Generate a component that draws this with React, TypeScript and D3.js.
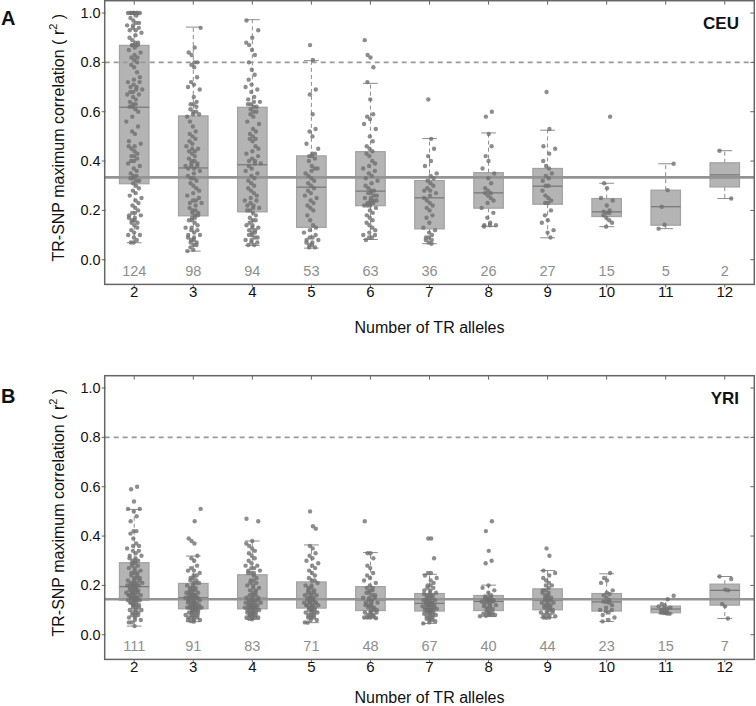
import React from "react";
import * as d3 from "d3";

// ---------- data ----------
const alleles = [2, 3, 4, 5, 6, 7, 8, 9, 10, 11, 12];
const yTicks = [0, 0.2, 0.4, 0.6, 0.8, 1.0];
const yTickLabels = ["0.0", "0.2", "0.4", "0.6", "0.8", "1.0"];
const threshold = 0.8;

const ceuCounts = [124, 98, 94, 53, 63, 36, 26, 27, 15, 5, 2];
const yriCounts = [111, 91, 83, 71, 48, 67, 40, 44, 23, 15, 7];

const ceuQ1 = [0.308, 0.178, 0.194, 0.131, 0.219, 0.125, 0.209, 0.225, 0.175, 0.14, 0.295];
const ceuMedian = [0.618, 0.372, 0.385, 0.294, 0.278, 0.251, 0.271, 0.298, 0.194, 0.215, 0.344];
const ceuQ3 = [0.869, 0.583, 0.618, 0.421, 0.438, 0.321, 0.353, 0.37, 0.248, 0.282, 0.393];
const ceuWhiskerLo = [0.069, 0.035, 0.058, 0.047, 0.082, 0.065, 0.135, 0.089, 0.134, 0.126, 0.248];
const ceuWhiskerHi = [1.0, 0.943, 0.973, 0.807, 0.715, 0.491, 0.514, 0.525, 0.31, 0.389, 0.442];
const ceuOverall = 0.334;

const yriQ1 = [0.14, 0.105, 0.105, 0.108, 0.098, 0.096, 0.098, 0.101, 0.096, 0.089, 0.12];
const yriMedian = [0.195, 0.15, 0.148, 0.144, 0.141, 0.127, 0.135, 0.14, 0.133, 0.104, 0.18];
const yriQ3 = [0.292, 0.208, 0.243, 0.214, 0.195, 0.167, 0.159, 0.186, 0.167, 0.116, 0.205];
const yriWhiskerLo = [0.035, 0.053, 0.063, 0.049, 0.067, 0.046, 0.075, 0.069, 0.054, 0.085, 0.066];
const yriWhiskerHi = [0.508, 0.319, 0.38, 0.364, 0.333, 0.245, 0.201, 0.26, 0.247, 0.144, 0.236];
const yriOverall = 0.144;

const ceu2 = [1, 1, 1, 1, 1, 1, 1, 1, 1, 0.99, 0.98, 0.97, 0.96, 0.96, 0.95, 0.95, 0.94, 0.94, 0.93, 0.93, 0.92, 0.91, 0.9, 0.89, 0.88, 0.88, 0.87, 0.87, 0.87, 0.87,
  0.86, 0.85, 0.84, 0.83, 0.82, 0.82, 0.81, 0.8, 0.79, 0.78, 0.76, 0.74, 0.73, 0.72, 0.72, 0.71, 0.7, 0.7, 0.69, 0.69, 0.68, 0.68, 0.67, 0.67, 0.66, 0.65, 0.64, 0.63, 0.63, 0.62, 0.62,
  0.61, 0.6, 0.58, 0.56, 0.54, 0.52, 0.51, 0.48, 0.47, 0.46, 0.46, 0.45, 0.44, 0.43, 0.42, 0.42, 0.41, 0.4, 0.4, 0.39, 0.38, 0.37, 0.36, 0.35, 0.34, 0.34, 0.33, 0.33, 0.32, 0.32, 0.31,
  0.3, 0.29, 0.28, 0.27, 0.26, 0.25, 0.24, 0.23, 0.22, 0.21, 0.2, 0.19, 0.19, 0.18, 0.18, 0.17, 0.17, 0.16, 0.16, 0.15, 0.15, 0.14, 0.13, 0.12, 0.11, 0.1, 0.1, 0.09, 0.08, 0.07, 0.07];
const ceu3 = [0.94, 0.86, 0.84, 0.83, 0.8, 0.8, 0.79, 0.78, 0.74, 0.72, 0.71, 0.7, 0.69, 0.66, 0.64, 0.63, 0.63, 0.62, 0.61, 0.6, 0.6, 0.59, 0.59, 0.58,
  0.56, 0.54, 0.52, 0.51, 0.5, 0.49, 0.48, 0.47, 0.46, 0.45, 0.45, 0.44, 0.44, 0.43, 0.42, 0.41, 0.4, 0.4, 0.39, 0.39, 0.38, 0.38, 0.38, 0.37, 0.37,
  0.36, 0.35, 0.34, 0.33, 0.33, 0.32, 0.31, 0.3, 0.29, 0.28, 0.27, 0.26, 0.25, 0.24, 0.24, 0.23, 0.23, 0.22, 0.21, 0.2, 0.2, 0.19, 0.19, 0.18, 0.18,
  0.17, 0.17, 0.16, 0.16, 0.15, 0.14, 0.13, 0.13, 0.12, 0.12, 0.11, 0.1, 0.1, 0.09, 0.09, 0.08, 0.08, 0.07, 0.07, 0.06, 0.06, 0.05, 0.04, 0.035];
const ceu4 = [0.97, 0.93, 0.9, 0.88, 0.87, 0.85, 0.83, 0.8, 0.77, 0.75, 0.73, 0.71, 0.7, 0.69, 0.68, 0.66, 0.65, 0.64, 0.64, 0.63, 0.63, 0.62, 0.62,
  0.61, 0.6, 0.6, 0.59, 0.58, 0.56, 0.55, 0.53, 0.52, 0.51, 0.5, 0.49, 0.49, 0.48, 0.46, 0.45, 0.44, 0.43, 0.42, 0.41, 0.4, 0.4, 0.39, 0.39,
  0.38, 0.37, 0.36, 0.35, 0.34, 0.33, 0.32, 0.31, 0.3, 0.29, 0.28, 0.27, 0.26, 0.25, 0.24, 0.24, 0.23, 0.22, 0.22, 0.21, 0.21, 0.2, 0.2, 0.19,
  0.18, 0.17, 0.16, 0.16, 0.15, 0.14, 0.14, 0.13, 0.13, 0.12, 0.12, 0.11, 0.11, 0.1, 0.1, 0.09, 0.09, 0.08, 0.08, 0.07, 0.07, 0.06, 0.06];
const ceu5 = [0.87, 0.81, 0.69, 0.67, 0.59, 0.53, 0.52, 0.5, 0.47, 0.45, 0.43, 0.43, 0.42,
  0.42, 0.41, 0.4, 0.38, 0.37, 0.37, 0.36, 0.35, 0.34, 0.33, 0.32, 0.31, 0.3,
  0.29, 0.28, 0.27, 0.26, 0.25, 0.24, 0.23, 0.22, 0.21, 0.2, 0.18, 0.16, 0.14,
  0.13, 0.12, 0.11, 0.1, 0.09, 0.09, 0.08, 0.08, 0.07, 0.07, 0.06, 0.06, 0.05, 0.05];
const ceu6 = [0.89, 0.83, 0.82, 0.78, 0.72, 0.65, 0.59, 0.58, 0.57, 0.55, 0.53, 0.5, 0.48, 0.46, 0.45, 0.44,
  0.43, 0.42, 0.4, 0.39, 0.38, 0.37, 0.36, 0.35, 0.34, 0.33, 0.32, 0.31, 0.3, 0.29, 0.28,
  0.28, 0.27, 0.27, 0.26, 0.26, 0.25, 0.25, 0.24, 0.24, 0.24, 0.23, 0.23, 0.23, 0.22, 0.22, 0.22,
  0.21, 0.2, 0.19, 0.18, 0.17, 0.16, 0.15, 0.14, 0.13, 0.12, 0.11, 0.1, 0.1, 0.09, 0.09, 0.08];
const ceu7 = [0.65, 0.49, 0.45, 0.42, 0.4, 0.38, 0.35, 0.34, 0.33,
  0.32, 0.31, 0.3, 0.29, 0.28, 0.28, 0.27, 0.26, 0.25,
  0.24, 0.23, 0.22, 0.21, 0.2, 0.18, 0.17, 0.15, 0.13,
  0.12, 0.11, 0.1, 0.09, 0.09, 0.08, 0.08, 0.07, 0.065];
const ceu8 = [0.6, 0.58, 0.51, 0.46, 0.42, 0.4, 0.37, 0.35, 0.33, 0.31, 0.29, 0.28, 0.27,
  0.27, 0.26, 0.25, 0.24, 0.23, 0.21, 0.19, 0.17, 0.15, 0.14, 0.14, 0.14, 0.135];
const ceu9 = [0.68, 0.53, 0.46, 0.45, 0.43, 0.4, 0.38, 0.37, 0.35, 0.34, 0.33, 0.32, 0.3,
  0.3, 0.28, 0.26, 0.25, 0.24, 0.23, 0.23, 0.2, 0.18, 0.16, 0.15, 0.12, 0.11, 0.09];
const ceu10 = [0.58, 0.31, 0.29, 0.25, 0.24, 0.22, 0.2, 0.195, 0.19, 0.19, 0.18, 0.17, 0.16, 0.15, 0.134];
const ceu11 = [0.389, 0.282, 0.215, 0.142, 0.126];
const ceu12 = [0.442, 0.248];
const ceuValues = [ceu2, ceu3, ceu4, ceu5, ceu6, ceu7, ceu8, ceu9, ceu10, ceu11, ceu12];

const yri2 = [0.6, 0.59, 0.54, 0.51, 0.51, 0.5, 0.48, 0.46, 0.42, 0.42, 0.41, 0.39, 0.37, 0.36, 0.36, 0.35, 0.34, 0.34, 0.33, 0.32, 0.32, 0.31, 0.31, 0.3, 0.3, 0.3, 0.29,
  0.29, 0.28, 0.28, 0.27, 0.27, 0.26, 0.26, 0.25, 0.25, 0.25, 0.24, 0.24, 0.23, 0.23, 0.23, 0.22, 0.22, 0.22, 0.21, 0.21, 0.21, 0.21, 0.2, 0.2, 0.2, 0.2, 0.2, 0.2,
  0.19, 0.19, 0.19, 0.19, 0.18, 0.18, 0.18, 0.18, 0.17, 0.17, 0.17, 0.17, 0.17, 0.16, 0.16, 0.16, 0.16, 0.16, 0.15, 0.15, 0.15, 0.15, 0.15, 0.15, 0.14, 0.14, 0.14, 0.14,
  0.14, 0.13, 0.13, 0.13, 0.13, 0.12, 0.12, 0.12, 0.12, 0.11, 0.11, 0.11, 0.1, 0.1, 0.1, 0.09, 0.09, 0.09, 0.08, 0.08, 0.08, 0.07, 0.07, 0.06, 0.06, 0.05, 0.05, 0.035];
const yri3 = [0.51, 0.46, 0.39, 0.38, 0.37, 0.32, 0.31, 0.3, 0.28, 0.27, 0.26, 0.26, 0.25, 0.24, 0.24, 0.23, 0.23, 0.22, 0.22, 0.21, 0.21, 0.21,
  0.2, 0.2, 0.19, 0.19, 0.19, 0.18, 0.18, 0.18, 0.17, 0.17, 0.17, 0.17, 0.16, 0.16, 0.16, 0.16, 0.16, 0.15, 0.15, 0.15, 0.15, 0.15, 0.15,
  0.15, 0.14, 0.14, 0.14, 0.14, 0.13, 0.13, 0.13, 0.13, 0.13, 0.12, 0.12, 0.12, 0.12, 0.12, 0.11, 0.11, 0.11, 0.11, 0.11, 0.11, 0.11, 0.11,
  0.1, 0.1, 0.1, 0.1, 0.1, 0.09, 0.09, 0.09, 0.09, 0.09, 0.08, 0.08, 0.08, 0.08, 0.07, 0.07, 0.07, 0.07, 0.06, 0.06, 0.06, 0.055, 0.053];
const yri4 = [0.47, 0.46, 0.38, 0.37, 0.36, 0.35, 0.34, 0.33, 0.32, 0.31, 0.3, 0.29, 0.28, 0.28, 0.27, 0.27, 0.26, 0.26, 0.25, 0.25, 0.25,
  0.24, 0.23, 0.22, 0.22, 0.21, 0.21, 0.2, 0.2, 0.19, 0.19, 0.18, 0.18, 0.17, 0.17, 0.16, 0.16, 0.16, 0.15, 0.15, 0.15,
  0.14, 0.14, 0.14, 0.14, 0.13, 0.13, 0.13, 0.13, 0.13, 0.12, 0.12, 0.12, 0.12, 0.12, 0.11, 0.11, 0.11, 0.11, 0.11, 0.11, 0.11,
  0.1, 0.1, 0.1, 0.1, 0.1, 0.09, 0.09, 0.09, 0.09, 0.09, 0.08, 0.08, 0.08, 0.08, 0.08, 0.07, 0.07, 0.07, 0.07, 0.065, 0.063];
const yri5 = [0.5, 0.44, 0.43, 0.36, 0.35, 0.33, 0.32, 0.31, 0.3, 0.29, 0.28, 0.27, 0.26, 0.25, 0.24, 0.23, 0.22, 0.22,
  0.21, 0.2, 0.2, 0.19, 0.19, 0.18, 0.18, 0.17, 0.17, 0.17, 0.16, 0.16, 0.16, 0.15, 0.15, 0.15, 0.15,
  0.14, 0.14, 0.14, 0.14, 0.13, 0.13, 0.13, 0.13, 0.13, 0.12, 0.12, 0.12, 0.12, 0.12, 0.11, 0.11, 0.11, 0.11,
  0.1, 0.1, 0.1, 0.1, 0.09, 0.09, 0.09, 0.09, 0.08, 0.08, 0.08, 0.07, 0.07, 0.07, 0.06, 0.06, 0.05, 0.049];
const yri6 = [0.46, 0.33, 0.33, 0.31, 0.28, 0.27, 0.25, 0.24, 0.23, 0.22, 0.21, 0.2,
  0.19, 0.19, 0.18, 0.18, 0.17, 0.17, 0.16, 0.16, 0.15, 0.15, 0.15, 0.14,
  0.14, 0.13, 0.13, 0.13, 0.12, 0.12, 0.12, 0.11, 0.11, 0.11, 0.1, 0.1,
  0.095, 0.09, 0.09, 0.09, 0.08, 0.08, 0.08, 0.075, 0.07, 0.07, 0.07, 0.067];
const yri7 = [0.39, 0.39, 0.31, 0.25, 0.25, 0.24, 0.23, 0.22, 0.21, 0.2, 0.2, 0.19, 0.19, 0.18, 0.18, 0.17, 0.17,
  0.165, 0.16, 0.16, 0.16, 0.15, 0.15, 0.15, 0.14, 0.14, 0.14, 0.14, 0.13, 0.13, 0.13, 0.13, 0.13,
  0.125, 0.12, 0.12, 0.12, 0.12, 0.115, 0.11, 0.11, 0.11, 0.11, 0.105, 0.1, 0.1, 0.1, 0.1, 0.1, 0.097,
  0.095, 0.09, 0.09, 0.09, 0.085, 0.08, 0.08, 0.08, 0.075, 0.07, 0.07, 0.065, 0.06, 0.06, 0.055, 0.05, 0.046];
const yri8 = [0.46, 0.42, 0.34, 0.3, 0.29, 0.2, 0.19, 0.18, 0.17, 0.16,
  0.155, 0.15, 0.15, 0.145, 0.14, 0.14, 0.14, 0.14, 0.135, 0.135,
  0.13, 0.13, 0.125, 0.12, 0.12, 0.115, 0.11, 0.11, 0.105, 0.1,
  0.095, 0.09, 0.09, 0.085, 0.085, 0.08, 0.08, 0.08, 0.077, 0.075];
const yri9 = [0.35, 0.32, 0.26, 0.25, 0.24, 0.23, 0.22, 0.21, 0.2, 0.2, 0.19,
  0.18, 0.18, 0.17, 0.17, 0.16, 0.16, 0.15, 0.15, 0.15, 0.14, 0.14,
  0.14, 0.13, 0.13, 0.13, 0.12, 0.12, 0.12, 0.11, 0.11, 0.11, 0.1,
  0.1, 0.095, 0.09, 0.09, 0.085, 0.08, 0.08, 0.075, 0.07, 0.07, 0.069];
const yri10 = [0.25, 0.23, 0.22, 0.21, 0.18, 0.17, 0.165, 0.16, 0.15, 0.14, 0.135, 0.133, 0.13, 0.12, 0.11, 0.1, 0.1, 0.095, 0.09, 0.08, 0.07, 0.06, 0.054];
const yri11 = [0.158, 0.144, 0.125, 0.12, 0.115, 0.11, 0.108, 0.104, 0.1, 0.095, 0.09, 0.09, 0.088, 0.086, 0.085];
const yri12 = [0.236, 0.226, 0.183, 0.18, 0.125, 0.115, 0.066];
const yriValues = [yri2, yri3, yri4, yri5, yri6, yri7, yri8, yri9, yri10, yri11, yri12];

// ---------- layout ----------
const W = 756;
const H = 706;
const LEFT = 104.7;
const RIGHT = 754.3;
const PANEL_H = 283.7;
const FONT = "Liberation Sans, Arial, Helvetica, sans-serif";

type PanelProps = {
  top: number;
  letter: string;
  pop: string;
  values: number[][];
  counts: number[];
  q1: number[];
  med: number[];
  q3: number[];
  lo: number[];
  hi: number[];
  overall: number;
  xLabelY: number;
  letterY: number;
};

function jitter(i: number, g: number) {
  const u1 = ((i + 1) * 0.7548776662 + g * 0.137) % 1;
  const u2 = ((i + 1) * 0.5698402910 + g * 0.371) % 1;
  return (u1 + u2 - 1) * 0.15;
}

function Panel(p: PanelProps) {
  const x = d3.scaleLinear().domain([1.5, 12.5]).range([LEFT, RIGHT]);
  const y = d3.scaleLinear().domain([-0.1, 1.05]).range([p.top + PANEL_H, p.top]);
  const bottom = p.top + PANEL_H;
  const boxHalf = 0.25;
  const capHalf = 0.125;
  const midY = p.top + 137;
  const wc = "#8c8c8c";
  return (
    <g>
      {alleles.map((a, i) => (
        <g key={"box" + a}>
          <line x1={x(a)} x2={x(a)} y1={y(p.q3[i])} y2={y(p.hi[i])} stroke={wc} strokeWidth={1} strokeDasharray="4,3" />
          <line x1={x(a)} x2={x(a)} y1={y(p.q1[i])} y2={y(p.lo[i])} stroke={wc} strokeWidth={1} strokeDasharray="4,3" />
          <line x1={x(a - capHalf)} x2={x(a + capHalf)} y1={y(p.hi[i])} y2={y(p.hi[i])} stroke={wc} strokeWidth={1} />
          <line x1={x(a - capHalf)} x2={x(a + capHalf)} y1={y(p.lo[i])} y2={y(p.lo[i])} stroke={wc} strokeWidth={1} />
          <rect x={x(a - boxHalf)} y={y(p.q3[i])} width={x(a + boxHalf) - x(a - boxHalf)} height={y(p.q1[i]) - y(p.q3[i])}
            fill="#b4b4b4" stroke="#a2a2a2" strokeWidth={1.2} />
          <line x1={x(a - boxHalf)} x2={x(a + boxHalf)} y1={y(p.med[i])} y2={y(p.med[i])} stroke="#7a7a7a" strokeWidth={1.3} />
        </g>
      ))}
      <line x1={LEFT} x2={RIGHT} y1={y(threshold)} y2={y(threshold)} stroke="#9a9a9a" strokeWidth={1.6} strokeDasharray="5,4" />
      <line x1={LEFT} x2={RIGHT} y1={y(p.overall)} y2={y(p.overall)} stroke="#939393" strokeWidth={2.6} />
      {p.values.map((vals, g) => (
        <g key={"pts" + g}>
          {vals.map((v, i) => (
            <circle key={i} cx={x(alleles[g] + jitter(i, g))} cy={y(v)} r={2.2} fill="#707070" fillOpacity={0.8} />
          ))}
        </g>
      ))}
      {alleles.map((a, i) => (
        <text key={"cnt" + a} x={x(a)} y={y(0) + 16.3} textAnchor="middle" fontSize={14.5} fill="#8e8e8e" fontFamily={FONT}>
          {p.counts[i]}
        </text>
      ))}
      <rect x={LEFT} y={p.top} width={RIGHT - LEFT} height={PANEL_H} fill="none" stroke="#666" strokeWidth={1.5} />
      {yTicks.map((t, i) => (
        <g key={"yt" + t}>
          <line x1={LEFT - 3} x2={LEFT + 1} y1={y(t)} y2={y(t)} stroke="#666" strokeWidth={1} />
          <line x1={RIGHT - 4} x2={RIGHT} y1={y(t)} y2={y(t)} stroke="#666" strokeWidth={1} />
          <text x={LEFT - 4} y={y(t) + 5} textAnchor="end" fontSize={14.5} fill="#111" fontFamily={FONT}>
            {yTickLabels[i]}
          </text>
        </g>
      ))}
      {alleles.map((a) => (
        <g key={"xt" + a}>
          <line x1={x(a)} x2={x(a)} y1={bottom} y2={bottom + 3} stroke="#666" strokeWidth={1} />
          <line x1={x(a)} x2={x(a)} y1={p.top} y2={p.top + 4} stroke="#666" strokeWidth={1} />
          <text x={x(a)} y={bottom + 13} textAnchor="middle" fontSize={15} fill="#111" fontFamily={FONT}>
            {a}
          </text>
        </g>
      ))}
      <text x={(LEFT + RIGHT) / 2} y={p.xLabelY} textAnchor="middle" fontSize={16} fill="#111" fontFamily={FONT}>
        Number of TR alleles
      </text>
      <text transform={`translate(64,${midY}) rotate(-90)`} textAnchor="middle" fontSize={16} fill="#111" fontFamily={FONT}>
        TR-SNP maximum correlation ( r
        <tspan dy={-7} fontSize={11}>2</tspan>
        <tspan dy={7}> )</tspan>
      </text>
      <text x={739} y={p.top + 28.5} textAnchor="end" fontSize={17} fontWeight="bold" fill="#111" fontFamily={FONT}>
        {p.pop}
      </text>
      <text x={1} y={p.letterY} fontSize={20} fontWeight="bold" fill="#111" fontFamily={FONT}>
        {p.letter}
      </text>
    </g>
  );
}

export default function App() {
  return (
    <svg width={W} height={H} style={{ position: "absolute", left: 0, top: 0, background: "#fff" }}>
      <rect x={0} y={0} width={W} height={H} fill="#fff" />
      <Panel top={0.7} letter="A" pop="CEU" values={ceuValues} counts={ceuCounts}
        q1={ceuQ1} med={ceuMedian} q3={ceuQ3} lo={ceuWhiskerLo} hi={ceuWhiskerHi} overall={ceuOverall}
        xLabelY={333} letterY={25} />
      <Panel top={375.7} letter="B" pop="YRI" values={yriValues} counts={yriCounts}
        q1={yriQ1} med={yriMedian} q3={yriQ3} lo={yriWhiskerLo} hi={yriWhiskerHi} overall={yriOverall}
        xLabelY={703} letterY={403} />
    </svg>
  );
}
